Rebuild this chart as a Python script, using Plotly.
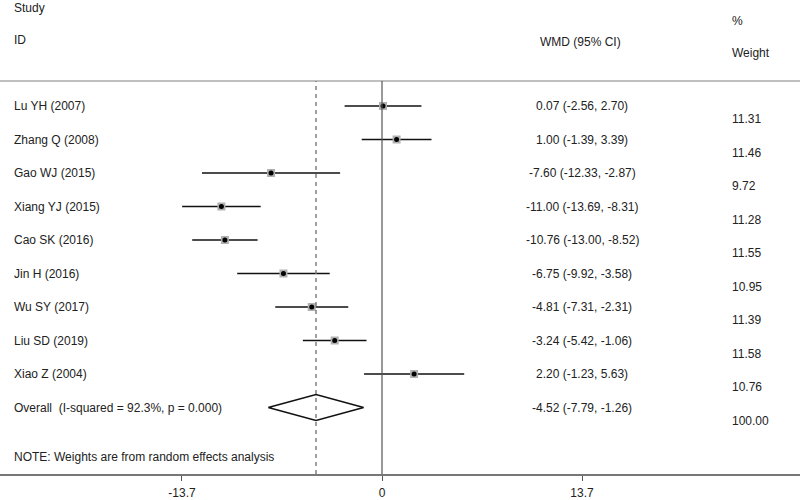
import plotly.graph_objects as go

studies = ["Lu YH (2007)", "Zhang Q (2008)", "Gao WJ (2015)", "Xiang YJ (2015)",
           "Cao SK (2016)", "Jin H (2016)", "Wu SY (2017)", "Liu SD (2019)", "Xiao Z (2004)"]
wmd = [0.07, 1.00, -7.60, -11.00, -10.76, -6.75, -4.81, -3.24, 2.20]
ci_low = [-2.56, -1.39, -12.33, -13.69, -13.00, -9.92, -7.31, -5.42, -1.23]
ci_high = [2.70, 3.39, -2.87, -8.31, -8.52, -3.58, -2.31, -1.06, 5.63]
weights = [11.31, 11.46, 9.72, 11.28, 11.55, 10.95, 11.39, 11.58, 10.76]

overall_label = "Overall\u00a0\u00a0(I-squared = 92.3%, p = 0.000)"
overall_est = -4.52
overall_low = -7.79
overall_high = -1.26
overall_weight = 100.00

tick_vals = [-13.7, 0, 13.7]
tick_text = ["-13.7", "0", "13.7"]

W, H = 800, 500
AX_PX = 474          # pixel y of the x axis line
ROW0_PX = 106        # pixel y of first row
ROW_H = 33.5
PX_PER_UNIT = 14.6
ZERO_PX = 382

FONT = "Liberation Sans, Arial, sans-serif"
TXT = "#222222"

def row_from_px(p):
    return (p - ROW0_PX) / ROW_H

def ppx(p):  # pixel y -> paper y
    return 1 - p / AX_PX

x_min = -ZERO_PX / PX_PER_UNIT
x_max = (W - ZERO_PX) / PX_PER_UNIT

n = len(studies)
rows = list(range(n))
ov_row = n

fig = go.Figure()

# CI lines with weight boxes
fig.add_trace(go.Scatter(
    x=wmd, y=rows, mode="markers",
    marker=dict(symbol="square", size=8, color="#b0b0b0"),
    error_x=dict(type="data", symmetric=False,
                 array=[h - e for h, e in zip(ci_high, wmd)],
                 arrayminus=[e - l for e, l in zip(wmd, ci_low)],
                 color="#111111", thickness=1.6, width=0),
    hoverinfo="skip", showlegend=False))
# point estimates
fig.add_trace(go.Scatter(
    x=wmd, y=rows, mode="markers",
    marker=dict(symbol="circle", size=5, color="#000000"),
    hoverinfo="skip", showlegend=False))

# overall diamond
dh = 13 / ROW_H
fig.add_trace(go.Scatter(
    x=[overall_low, overall_est, overall_high, overall_est, overall_low],
    y=[ov_row, ov_row - dh, ov_row, ov_row + dh, ov_row],
    mode="lines", line=dict(color="#111111", width=1.6),
    fill="toself", fillcolor="rgba(255,255,255,0)",
    hoverinfo="skip", showlegend=False))

header_row = row_from_px(81)
shapes = [
    dict(type="line", xref="paper", yref="y", x0=0, x1=1, y0=header_row, y1=header_row,
         line=dict(color="#aaaaaa", width=1.5)),
    dict(type="line", xref="x", yref="paper", x0=0, x1=0, y0=0, y1=ppx(81),
         line=dict(color="#555555", width=1.2)),
    dict(type="line", xref="x", yref="paper", x0=overall_est, x1=overall_est, y0=0, y1=ppx(81),
         line=dict(color="#777777", width=1.4, dash="4px,4px")),
]

ann = []
def add_text(text, xpx, y, yref="y", xanchor="left"):
    ann.append(dict(text=text, x=xpx / W, xref="paper", y=y, yref=yref,
                    xanchor=xanchor, yanchor="middle", showarrow=False,
                    font=dict(family=FONT, size=12, color=TXT)))

add_text("Study", 12, ppx(8), "paper")
add_text("ID", 12, ppx(40), "paper")
add_text("WMD (95% CI)", 580, ppx(42), "paper", "center")
add_text("%", 730, ppx(21), "paper")
add_text("Weight", 730, ppx(53), "paper")

wofs = 13 / ROW_H
for i, (s, e, l, h, w) in enumerate(zip(studies, wmd, ci_low, ci_high, weights)):
    add_text(s, 12, i)
    add_text(f"{e:.2f} ({l:.2f}, {h:.2f})", 582, i, "y", "center")
    add_text(f"{w:.2f}", 730, i + wofs)

add_text(overall_label, 12, ov_row)
add_text(f"{overall_est:.2f} ({overall_low:.2f}, {overall_high:.2f})", 582, ov_row, "y", "center")
add_text(f"{overall_weight:.2f}", 730, ov_row + wofs)
add_text("NOTE: Weights are from random effects analysis", 12, ppx(457), "paper")

fig.update_layout(
    width=W, height=H,
    margin=dict(l=0, r=0, t=0, b=H - AX_PX),
    paper_bgcolor="white", plot_bgcolor="white",
    shapes=shapes, annotations=ann,
    xaxis=dict(range=[x_min, x_max], tickvals=tick_vals, ticktext=tick_text,
               showgrid=False, zeroline=False, showline=True, linecolor="#777777",
               linewidth=1.5, ticks="outside", ticklen=5, tickcolor="#555555",
               tickfont=dict(family=FONT, size=12, color=TXT), ticklabelstandoff=2,
               automargin=False, fixedrange=True),
    yaxis=dict(range=[row_from_px(AX_PX), row_from_px(0)], visible=False,
               showgrid=False, zeroline=False, fixedrange=True),
    showlegend=False,
)

fig.write_html("out.html",
               post_script="document.body.style.margin='0';document.body.style.overflow='hidden';",
               config={"displayModeBar": False})
